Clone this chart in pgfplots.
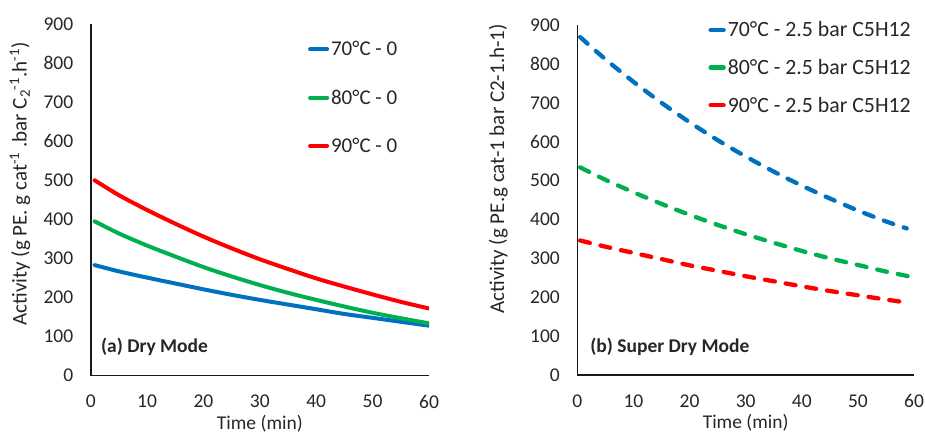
\documentclass[border=0pt]{standalone}
\usepackage{fontspec}
\setmainfont{Carlito}
\usepackage{pgfplots}
\pgfplotsset{compat=1.18}
\definecolor{cblue}{RGB}{0,112,192}
\definecolor{cgreen}{RGB}{0,176,80}
\definecolor{cred}{RGB}{255,0,0}
\definecolor{ctext}{RGB}{38,38,38}
\pgfplotsset{myaxis/.style={
  scale only axis,
  xmin=0, xmax=60, ymin=0, ymax=900,
  axis x line*=bottom, axis y line*=left,
  axis line style={line width=1.6pt,-,black!90},
  xtick={0,10,...,60}, ytick={0,100,...,900},
  major tick length=0pt,
  tick label style={font=\fontsize{19.5}{20}\selectfont, text=ctext},
  /pgf/number format/assume math mode=true,
  xticklabel style={yshift=-16pt},
  yticklabel style={xshift=-14pt},
  xlabel style={at={(axis description cs:0.5,0)}, anchor=center, yshift=-48pt, font=\fontsize{19.5}{20}\selectfont, text=ctext},
  no markers,
  legend cell align=left,
}}
\begin{document}
\begin{tikzpicture}
\path[use as bounding box] (0,0) rectangle (925pt,433pt);
\begin{axis}[myaxis,
  at={(90.7pt,57.3pt)}, anchor=south west,
  width=338.3pt, height=351.7pt,
  xlabel={Time (min)},
  ylabel={Activity (g PE. g cat\textsuperscript{-1} .bar C\textsubscript{2}\textsuperscript{-1}.h\textsuperscript{-1})},
  ylabel style={at={(axis description cs:-0.209,0.545)}, anchor=center, font=\fontsize{21}{22}\selectfont, text=ctext},
  legend style={draw=none, fill=none, at={(rel axis cs:0.642,0.957)}, anchor=north west,
    font=\fontsize{21}{22}\selectfont, text=ctext, row sep=28.5pt, inner sep=0pt},
  legend image code/.code={\draw[#1, line cap=round] (2pt,0pt) -- (19pt,0pt);},
]
\addplot[cblue, line width=4pt, smooth, line cap=round] coordinates {(0.7,283)(5,267)(10,251)(15,236)(20,221)(25,207)(30,194)(35,182)(40,170)(45,158)(50,148)(55,138)(60,128)};
\addlegendentry{70°C - 0}
\addplot[cgreen, line width=4pt, smooth, line cap=round] coordinates {(0.7,395)(5,364)(10,333)(15,305)(20,278)(25,254)(30,232)(35,212)(40,194)(45,177)(50,161)(55,147)(60,134)};
\addlegendentry{80°C - 0}
\addplot[cred, line width=4pt, smooth, line cap=round] coordinates {(0.7,500)(5,462)(10,424)(15,389)(20,356)(25,326)(30,298)(35,273)(40,249)(45,228)(50,208)(55,189)(60,172)};
\addlegendentry{90°C - 0}
\node[anchor=west, font=\bfseries\fontsize{19.5}{20}\selectfont, text=ctext, inner sep=0pt] at (rel axis cs:0.03,0.082) {(a) Dry Mode};
\end{axis}
\begin{axis}[myaxis,
  at={(577.3pt,58pt)}, anchor=south west,
  width=336.7pt, height=350pt,
  xlabel={Time (min)},
  ylabel={Activity (g PE.g cat-1 bar C2-1.h-1)},
  ylabel style={at={(axis description cs:-0.2346,0.589)}, anchor=center, font=\fontsize{21}{22}\selectfont, text=ctext},
  legend style={draw=none, fill=none, at={(rel axis cs:0.389,1.016)}, anchor=north west,
    font=\fontsize{21.8}{23}\selectfont, text=ctext, row sep=17pt, inner sep=0pt},
  legend image code/.code={\draw[#1, line cap=round, solid] (2pt,0pt) -- (15pt,0pt);},
]
\addplot[cblue, line width=4.3pt, smooth, line cap=round, dash pattern=on 10pt off 11pt] coordinates {(0.5,869)(5,812)(10,754)(15,700)(20,650)(25,604)(30,562)(35,523)(40,487)(45,454)(50,423)(55,395)(58.7,377)};
\addlegendentry{70°C - 2.5 bar C5H12}
\addplot[cgreen, line width=4.3pt, smooth, line cap=round, dash pattern=on 10pt off 11pt] coordinates {(0.5,534)(5,502)(10,470)(15,440)(20,412)(25,386)(30,362)(35,340)(40,319)(45,300)(50,283)(55,266)(60,251)};
\addlegendentry{80°C - 2.5 bar C5H12}
\addplot[cred, line width=4.3pt, smooth, line cap=round, dash pattern=on 10pt off 11pt] coordinates {(0.5,346)(5,330)(10,314)(15,298)(20,282)(25,268)(30,254)(35,241)(40,228)(45,216)(50,205)(55,194)(58.9,186)};
\addlegendentry{90°C - 2.5 bar C5H12}
\node[anchor=west, font=\bfseries\fontsize{19.5}{20}\selectfont, text=ctext, inner sep=0pt] at (rel axis cs:0.038,0.08) {(b) Super Dry Mode};
\end{axis}
\end{tikzpicture}
\end{document}
